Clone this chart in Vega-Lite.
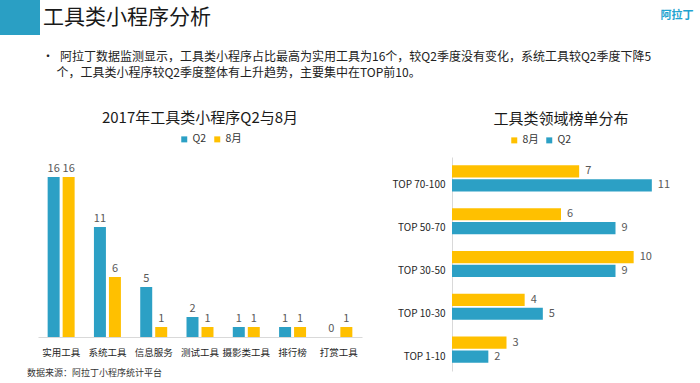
{
  "$schema": "https://vega.github.io/schema/vega-lite/v6.json",
  "padding": 0,
  "background": "white",
  "config": {
    "font": "Noto Sans CJK SC",
    "view": {"stroke": null},
    "title": {"font": "Noto Sans CJK SC", "fontWeight": "normal"},
    "axis": {"labelFont": "Noto Sans CJK SC"},
    "legend": {"labelFont": "Noto Sans CJK SC"}
  },
  "title": {
    "text": "数据来源：阿拉丁小程序统计平台",
    "orient": "bottom",
    "anchor": "start",
    "fontSize": 9,
    "color": "#333333",
    "dx": 27,
    "offset": -2
  },
  "spacing": 16,
  "vconcat": [
    {
      "spacing": 448,
      "hconcat": [
        {
          "spacing": 2,
          "hconcat": [
            {
              "width": 40,
              "height": 35,
              "view": {"fill": "#2a9fc4", "stroke": null},
              "data": {"values": [{"k": 1}]},
              "mark": {"type": "point", "opacity": 0},
              "encoding": {}
            },
            {
              "width": 170,
              "height": 35,
              "data": {"values": [{"t": "工具类小程序分析"}]},
              "mark": {"type": "text", "align": "center", "baseline": "middle", "fontSize": 21, "color": "#1a1a1a"},
              "encoding": {"text": {"field": "t", "type": "nominal"}}
            }
          ]
        },
        {
          "width": 30,
          "height": 32,
          "data": {"values": [{"t": "阿拉丁"}]},
          "mark": {"type": "text", "align": "center", "baseline": "middle", "fontSize": 11, "fontWeight": "bold", "color": "#1fa3d0"},
          "encoding": {"text": {"field": "t", "type": "nominal"}}
        }
      ]
    },
    {
      "title": {
        "text": [
          "\u200b\u3000\u3000\u3000\u2002•\u2002阿拉丁数据监测显示，工具类小程序占比最高为实用工具为16个，较Q2季度没有变化，系统工具较Q2季度下降5",
          "\u200b\u3000\u3000\u3000\u3000\u2002\u2009个，工具类小程序较Q2季度整体有上升趋势，主要集中在TOP前10。"
        ],
        "anchor": "start",
        "fontSize": 12,
        "lineHeight": 16,
        "offset": 31,
        "color": "#222222"
      },
      "spacing": 30,
      "resolve": {
        "scale": {"color": "independent", "x": "independent", "y": "independent"},
        "legend": {"color": "independent"}
      },
      "hconcat": [
        {
          "width": 8,
          "height": 10,
          "data": {"values": [{"k": 1}]},
          "mark": {"type": "point", "opacity": 0},
          "encoding": {}
        },
        {
          "width": 324,
          "height": 180,
          "data": {
            "values": [
              {"cat": "实用工具", "s": "Q2", "v": 16},
              {"cat": "实用工具", "s": "8月", "v": 16},
              {"cat": "系统工具", "s": "Q2", "v": 11},
              {"cat": "系统工具", "s": "8月", "v": 6},
              {"cat": "信息服务", "s": "Q2", "v": 5},
              {"cat": "信息服务", "s": "8月", "v": 1},
              {"cat": "测试工具", "s": "Q2", "v": 2},
              {"cat": "测试工具", "s": "8月", "v": 1},
              {"cat": "摄影类工具", "s": "Q2", "v": 1},
              {"cat": "摄影类工具", "s": "8月", "v": 1},
              {"cat": "排行榜", "s": "Q2", "v": 1},
              {"cat": "排行榜", "s": "8月", "v": 1},
              {"cat": "打赏工具", "s": "Q2", "v": 0},
              {"cat": "打赏工具", "s": "8月", "v": 1}
            ]
          },
          "title": {"text": "2017年工具类小程序Q2与8月", "fontSize": 15, "color": "#1a1a1a", "offset": 8},
          "encoding": {
            "x": {
              "field": "cat", "type": "nominal", "sort": null,
              "scale": {"paddingInner": 0.417, "paddingOuter": 0.2085},
              "axis": {"title": null, "labelAngle": 0, "ticks": false, "domainColor": "#d9d9d9", "labelFontSize": 9.5, "labelColor": "#262626", "labelPadding": 10}
            },
            "xOffset": {"field": "s", "type": "nominal", "sort": ["Q2", "8月"], "scale": {"paddingInner": 0.2, "paddingOuter": 0}},
            "y": {
              "field": "v", "type": "quantitative",
              "scale": {"domain": [0, 18], "nice": false},
              "axis": null
            }
          },
          "layer": [
            {
              "mark": {"type": "bar"},
              "encoding": {
                "color": {
                  "field": "s", "type": "nominal",
                  "scale": {"domain": ["Q2", "8月"], "range": ["#2ca0c5", "#ffc000"]},
                  "legend": {"orient": "none", "legendX": 141, "legendY": -23, "title": null, "direction": "horizontal", "symbolType": "square", "symbolSize": 36, "symbolStrokeWidth": 0, "labelFontSize": 10.5, "labelColor": "#333333", "labelOffset": 3, "columnPadding": 5, "padding": 0}
                }
              }
            },
            {
              "mark": {"type": "text", "baseline": "bottom", "dy": -3, "fontSize": 11, "color": "#595959"},
              "encoding": {"text": {"field": "v", "type": "quantitative"}}
            }
          ]
        },
        {
          "width": 218,
          "height": 214,
          "data": {
            "values": [
              {"cat": "TOP 70-100", "s": "8月", "v": 7},
              {"cat": "TOP 70-100", "s": "Q2", "v": 11},
              {"cat": "TOP 50-70", "s": "8月", "v": 6},
              {"cat": "TOP 50-70", "s": "Q2", "v": 9},
              {"cat": "TOP 30-50", "s": "8月", "v": 10},
              {"cat": "TOP 30-50", "s": "Q2", "v": 9},
              {"cat": "TOP 10-30", "s": "8月", "v": 4},
              {"cat": "TOP 10-30", "s": "Q2", "v": 5},
              {"cat": "TOP 1-10", "s": "8月", "v": 3},
              {"cat": "TOP 1-10", "s": "Q2", "v": 2}
            ]
          },
          "title": {"text": "工具类领域榜单分布", "fontSize": 15, "color": "#1a1a1a", "offset": 8},
          "encoding": {
            "y": {
              "field": "cat", "type": "nominal", "sort": null,
              "scale": {"paddingInner": 0.39, "paddingOuter": 0.195},
              "axis": {"title": null, "ticks": false, "domainColor": "#d9d9d9", "labelFontSize": 10, "labelColor": "#262626", "labelPadding": 7, "labelOffset": 7, "minExtent": 55, "maxExtent": 55}
            },
            "yOffset": {"field": "s", "type": "nominal", "sort": ["8月", "Q2"], "scale": {"paddingInner": 0.12, "paddingOuter": 0}},
            "x": {"field": "v", "type": "quantitative", "scale": {"domain": [0, 12], "nice": false}, "axis": null}
          },
          "layer": [
            {
              "mark": {"type": "bar"},
              "encoding": {
                "color": {
                  "field": "s", "type": "nominal",
                  "scale": {"domain": ["8月", "Q2"], "range": ["#ffc000", "#2ca0c5"]},
                  "legend": {"orient": "none", "legendX": 57, "legendY": -22, "title": null, "direction": "horizontal", "symbolType": "square", "symbolSize": 36, "symbolStrokeWidth": 0, "labelFontSize": 10.5, "labelColor": "#333333", "labelOffset": 3, "columnPadding": 5, "padding": 0}
                }
              }
            },
            {
              "mark": {"type": "text", "align": "left", "baseline": "middle", "dx": 6, "fontSize": 11, "color": "#595959"},
              "encoding": {"text": {"field": "v", "type": "quantitative"}}
            }
          ]
        }
      ]
    }
  ]
}
